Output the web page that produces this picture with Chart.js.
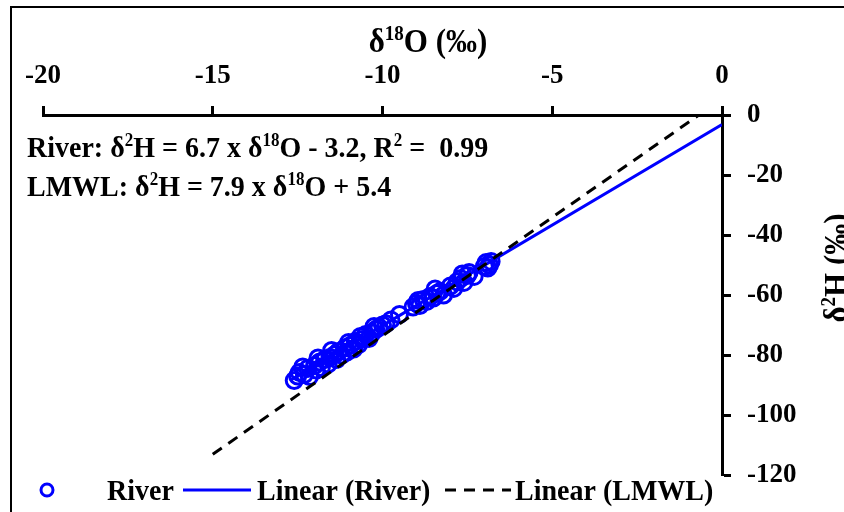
<!DOCTYPE html>
<html>
<head>
<meta charset="utf-8">
<script src="https://cdn.jsdelivr.net/npm/chart.js@4.4.1/dist/chart.umd.min.js"></script>
<style>
html,body{margin:0;padding:0;background:#fff;}
#wrap{width:844px;height:512px;position:relative;}
</style>
</head>
<body>
<div id="wrap"><canvas id="c" width="844" height="512"></canvas></div>
<script>
// ---- data ----
const riverX = [-12.6,-12.5,-12.45,-12.3,-12.2,-12.15,-12.0,-11.95,-11.85,-11.8,-11.7,-11.6,-11.55,-11.4,-11.35,-11.3,-11.2,-11.1,-11.05,-10.95,-10.85,-10.8,-10.7,-10.6,-10.5,-10.4,-10.3,-10.2,-10.1,-10.0,-9.9,-9.75,-9.5,-9.1,-9.0,-8.9,-8.8,-8.7,-8.6,-8.5,-8.4,-8.3,-8.2,-8.0,-7.9,-7.8,-7.7,-7.6,-7.5,-7.45,-7.3,-7.0,-6.95,-6.85,-6.8,-12.35,-11.9,-11.5,-11.0,-10.65,-10.25,-8.95,-8.45,-7.65,-6.9];
const riverY = [-88.5,-87.0,-85.8,-86.5,-84.5,-87.2,-83.5,-85.0,-82.3,-84.2,-81.5,-83.0,-80.8,-79.8,-81.5,-78.8,-80.0,-77.6,-79.0,-76.8,-78.0,-75.5,-76.5,-74.8,-73.2,-74.5,-72.6,-71.5,-70.8,-70.0,-69.6,-68.3,-66.5,-64.0,-62.8,-63.5,-61.5,-62.2,-60.5,-61.0,-59.5,-58.8,-60.0,-57.0,-57.8,-55.6,-54.5,-55.8,-53.5,-52.5,-53.8,-50.5,-49.2,-50.0,-48.8,-84.0,-81.0,-78.5,-75.8,-73.8,-70.5,-61.8,-58.0,-53.0,-51.0];
const riverFitX = [-12.7, 0];
const riverFitY = [-88.3, -3.2];
const lmwlX = [-15, -0.68];
const lmwlY = [-113.1, 0];
const xTicks = [-20, -15, -10, -5, 0];
const yTicks = [0, -20, -40, -60, -80, -100, -120];
const seriesNames = ['River', 'Linear (River)', 'Linear (LMWL)'];
const eqRiver = [['River: δ',0],['2',1],['H = 6.7 x δ',0],['18',1],['O - 3.2, R',0],['2',1],[' =  0.99',0]];
const eqLmwl = [['LMWL: δ',0],['2',1],['H = 7.9 x δ',0],['18',1],['O + 5.4',0]];
const xTitle = [['δ',0],['18',1],['O (‰)',0]];
const yTitle = [['δ',0],['2',1],['H (‰)',0]];

const BLUE = '#0000FF';
const FONT = '"Liberation Serif","Times New Roman",serif';
const pts = (xs, ys) => xs.map((x, i) => ({x, y: ys[i]}));

function richWidth(ctx, parts, size) {
  let w = 0;
  for (const [t, sup] of parts) {
    ctx.font = 'bold ' + (sup ? Math.round(size * 0.62) : size) + 'px ' + FONT;
    w += ctx.measureText(t).width;
  }
  return w;
}
// draws text with a slight vertical stretch, baseline at y
function drawRich(ctx, x, y, parts, size, sy) {
  ctx.save();
  ctx.translate(0, y);
  ctx.scale(1, sy || 1.08);
  ctx.textBaseline = 'alphabetic';
  ctx.textAlign = 'left';
  for (const [t, sup] of parts) {
    ctx.font = 'bold ' + (sup ? Math.round(size * 0.62) : size) + 'px ' + FONT;
    ctx.fillText(t, x, sup ? -size * 0.36 : 0);
    x += ctx.measureText(t).width;
  }
  ctx.restore();
  return x;
}

const deco = {
  id: 'deco',
  afterDraw(chart) {
    const ctx = chart.ctx;
    ctx.save();
    ctx.fillStyle = '#000';
    // outer border
    ctx.strokeStyle = '#000';
    ctx.lineWidth = 2;
    ctx.strokeRect(11, 7, 900, 600);
    // axis titles
    const ts = 31;
    let w = richWidth(ctx, xTitle, ts);
    drawRich(ctx, 428 - w / 2, 52, xTitle, ts);
    ctx.save();
    ctx.translate(847, 268);
    ctx.rotate(-Math.PI / 2);
    w = richWidth(ctx, yTitle, ts);
    drawRich(ctx, -w / 2, 0, yTitle, ts);
    ctx.restore();
    // equations
    const s = 28;
    drawRich(ctx, 27, 157, eqRiver, s);
    drawRich(ctx, 27, 196, eqLmwl, s);
    // legend
    const ds = chart.data.datasets;
    const ly = 490;
    // marker
    ctx.beginPath();
    ctx.strokeStyle = ds[0].borderColor;
    ctx.lineWidth = 3;
    ctx.arc(47, ly, 6, 0, Math.PI * 2);
    ctx.stroke();
    drawRich(ctx, 107, ly + 10, [[ds[0].label, 0]], s);
    // river line
    ctx.beginPath();
    ctx.strokeStyle = ds[1].borderColor;
    ctx.lineWidth = 3;
    ctx.moveTo(183, ly); ctx.lineTo(251, ly);
    ctx.stroke();
    drawRich(ctx, 257, ly + 10, [[ds[1].label, 0]], s);
    // lmwl dashed
    ctx.beginPath();
    ctx.strokeStyle = ds[2].borderColor;
    ctx.setLineDash([11, 8]);
    ctx.moveTo(445, ly); ctx.lineTo(511, ly);
    ctx.stroke();
    ctx.setLineDash([]);
    drawRich(ctx, 515, ly + 10, [[ds[2].label, 0]], s);
    ctx.restore();
  }
};

const tickFont = {family: FONT, size: 27, weight: 'bold'};

new Chart(document.getElementById('c'), {
  type: 'scatter',
  data: {
    datasets: [
      {label: seriesNames[0], data: pts(riverX, riverY), pointStyle: 'circle', pointRadius: 8, pointHoverRadius: 8,
       borderWidth: 3, borderColor: BLUE, backgroundColor: 'rgba(0,0,0,0)', showLine: false, order: 2},
      {label: seriesNames[1], data: pts(riverFitX, riverFitY), showLine: true, pointRadius: 0, borderColor: BLUE,
       borderWidth: 3, backgroundColor: BLUE, order: 1},
      {label: seriesNames[2], data: pts(lmwlX, lmwlY), showLine: true, pointRadius: 0, borderColor: '#000',
       borderWidth: 3, borderDash: [11, 8], backgroundColor: '#000', order: 0}
    ]
  },
  options: {
    responsive: false,
    animation: false,
    devicePixelRatio: 1,
    layout: {padding: {left: 43, top: 0, right: 0, bottom: 37}},
    plugins: {legend: {display: false}, tooltip: {enabled: false}},
    scales: {
      x: {
        type: 'linear', position: 'top', min: -20, max: 0,
        afterBuildTicks: (sc) => { sc.ticks = xTicks.map(v => ({value: v})); },
        afterFit: (sc) => { sc.height = 115; },
        grid: {display: true, drawOnChartArea: false, drawTicks: true, tickLength: 9, tickWidth: 3, tickColor: '#000', color: '#000'},
        border: {display: true, color: '#000', width: 3},
        ticks: {color: '#000', font: tickFont, padding: 14, maxRotation: 0, callback: v => String(v)}
      },
      y: {
        type: 'linear', position: 'right', min: -120, max: 0,
        afterBuildTicks: (sc) => { sc.ticks = yTicks.map(v => ({value: v})); },
        afterFit: (sc) => { sc.width = 122; },
        grid: {display: true, drawOnChartArea: false, drawTicks: true, tickLength: 9, tickWidth: 3, tickColor: '#000', color: '#000'},
        border: {display: true, color: '#000', width: 3},
        ticks: {color: '#000', font: tickFont, padding: 16, callback: v => String(v)}
      }
    }
  },
  plugins: [deco]
});
</script>
</body>
</html>
